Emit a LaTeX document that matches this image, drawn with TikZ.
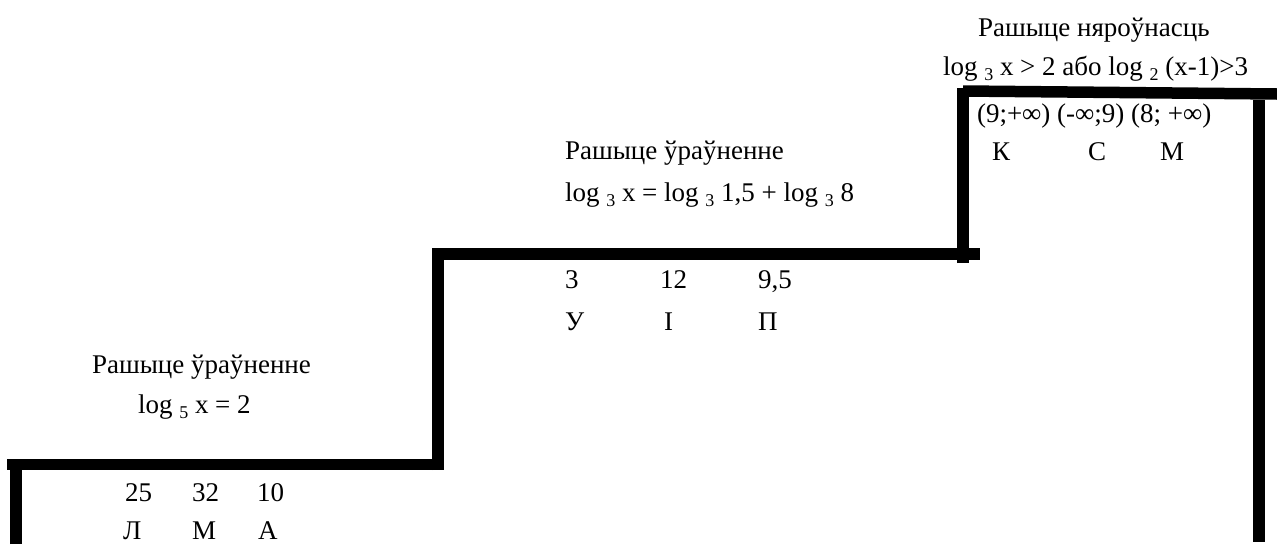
\documentclass[tikz,border=0pt]{standalone}
\usepackage{fontspec}
\setmainfont{Liberation Serif}
\newcommand\lsub[1]{\raisebox{-0.22em}{\fontsize{18}{18}\selectfont #1}}
\tikzset{
  stair/.style={line width=11.5pt, line cap=butt, draw=black},
  txt/.style={anchor=base west, inner sep=0pt, outer sep=0pt, font=\fontsize{27}{32}\selectfont}
}
\begin{document}
\begin{tikzpicture}[x=1pt,y=-1pt]
\useasboundingbox (0,0) rectangle (1277,544);
% staircase
\draw[stair] (16,544) -- (16,459);
\draw[stair] (7,464.5) -- (443,464.5);
\draw[stair] (438,470) -- (438,248);
\draw[stair] (433,254) -- (980,254);
\draw[stair] (963,263) -- (963,88);
\draw[stair] (963,91) -- (1277,94);
\draw[stair] (1259,100) -- (1259,542);
% step 1
\node[txt] (t1a) at (92,373) {Рашыце ўраўненне};
\node[txt] (t1b) at (138,413) {log \lsub{5} x = 2};
\node[txt] (n1a) at (125,501) {25};
\node[txt] (n1b) at (192,501) {32};
\node[txt] (n1c) at (257,501) {10};
\node[txt] (l1a) at (123,539) {Л};
\node[txt] (l1b) at (192,539) {М};
\node[txt] (l1c) at (258,539) {А};
% step 2
\node[txt] (t2a) at (565,159) {Рашыце ўраўненне};
\node[txt] (t2b) at (565,201) {log \lsub{3} x = log \lsub{3} 1,5 + log \lsub{3} 8};
\node[txt] (n2a) at (565,288) {3};
\node[txt] (n2b) at (660,288) {12};
\node[txt] (n2c) at (758,288) {9,5};
\node[txt] (l2a) at (565,330) {У};
\node[txt] (l2b) at (664,330) {І};
\node[txt] (l2c) at (758,330) {П};
% step 3
\node[txt] (t3a) at (978,36) {Рашыце няроўнасць};
\node[txt] (t3b) at (943,75) {log \lsub{3} x > 2 або log \lsub{2} (x-1)>3};
\node[txt] (n3) at (977,122) {(9;+∞) (-∞;9) (8; +∞)};
\node[txt] (l3a) at (992,160) {К};
\node[txt] (l3b) at (1088,160) {С};
\node[txt] (l3c) at (1160,160) {М};
\end{tikzpicture}
\end{document}
